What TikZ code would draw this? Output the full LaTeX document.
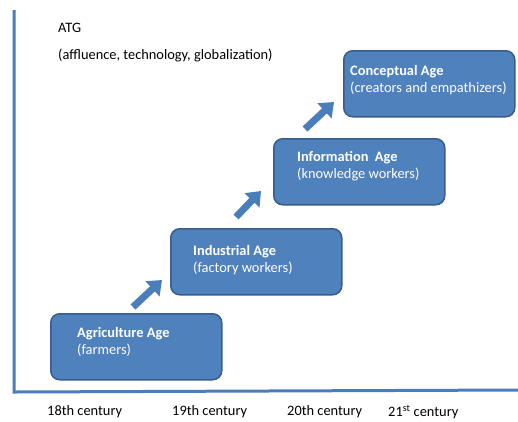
\documentclass[tikz,border=0pt]{standalone}
\usepackage{fontspec}
\setmainfont{Carlito}
\usetikzlibrary{arrows.meta}
\definecolor{boxfill}{HTML}{4F81BD}
\definecolor{boxedge}{HTML}{385D8A}
\definecolor{axiscol}{HTML}{4A7EBB}
\begin{document}
\begin{tikzpicture}[x=1pt,y=-1pt,
  agebox/.style={draw=boxedge,line width=1.5pt,fill=boxfill,rounded corners=9pt,minimum width=171pt,minimum height=66pt,anchor=north west},
  boxtext/.style={text=white,font=\fontsize{14.4}{17}\selectfont,align=left,anchor=north west,inner sep=0pt},
  plaintext/.style={font=\fontsize{14.4}{17}\selectfont,anchor=west,inner sep=0pt},
  upar/.style={draw=axiscol,line width=7pt,-{Triangle[width=20pt,length=13pt]}},
  axisline/.style={draw=axiscol,line width=3pt}]
\useasboundingbox (0,0) rectangle (518,421);
% axes
\coordinate (top) at (14,10);
\coordinate (origin) at (14,392);
\coordinate (right) at (518,390);
\draw[axisline] (top) -- (origin) -- (right);
% header text
\node[plaintext] (atg) at (58,28) {ATG};
\node[plaintext] (atgdesc) at (58,55) {(affluence, technology, globalization)};
% boxes
\node[agebox] (agri) at (50,313) {};
\node[agebox] (ind) at (170,228) {};
\node[agebox] (info) at (273,138) {};
\node[agebox] (conc) at (343,50) {};
\node[boxtext] (agrit) at (77,327) {\textbf{Agriculture Age}\\(farmers)};
\node[boxtext] (indt) at (193,245) {\textbf{Industrial Age}\\(factory workers)};
\node[boxtext] (infot) at (297,151) {\textbf{Information~~Age}\\(knowledge workers)};
\node[boxtext] (conct) at (350,65) {\textbf{Conceptual Age}\\(creators and empathizers)};
% arrows
\coordinate (a1s) at (133,307);
\coordinate (a1e) at (162,280);
\coordinate (a2s) at (236,217);
\coordinate (a2e) at (261,191);
\coordinate (a3s) at (305,129);
\coordinate (a3e) at (334,102);
\draw[upar] (a1s) -- (a1e);
\draw[upar] (a2s) -- (a2e);
\draw[upar] (a3s) -- (a3e);
% century labels
\node[plaintext] (c18) at (47,412) {18th century};
\node[plaintext] (c19) at (172,412) {19th century};
\node[plaintext] (c20) at (287,412) {20th century};
\node[plaintext] (c21) at (388,412) {21\textsuperscript{st} century};
\end{tikzpicture}
\end{document}
